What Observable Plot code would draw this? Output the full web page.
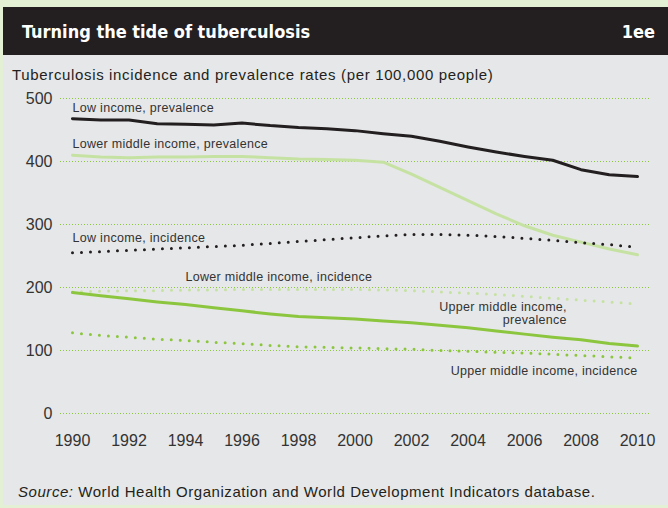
<!DOCTYPE html>
<html>
<head>
<meta charset="utf-8">
<script src="https://cdn.jsdelivr.net/npm/d3@7"></script>
<script src="https://cdn.jsdelivr.net/npm/@observablehq/plot@0.6"></script>
<style>
  html, body { margin:0; padding:0; }
  body { width:668px; height:508px; background:#e3f0d4; position:relative; overflow:hidden; font-family:"Liberation Sans", Arial, sans-serif; }
  #frame { position:absolute; left:3px; top:7px; width:665px; height:498px; background:#e6e7e8; }
  #titlebar { position:absolute; left:0; top:0; width:665px; height:48px; background:#231f20; color:#fff; }
  #title { position:absolute; left:19px; top:14px; font-family:"Liberation Sans Narrow","DejaVu Sans Condensed",sans-serif; font-weight:bold; font-size:18px; }
  #num { position:absolute; right:13px; top:14px; font-family:"Liberation Sans Narrow","DejaVu Sans Condensed",sans-serif; font-weight:bold; font-size:18px; }
  #subtitle { position:absolute; left:9px; top:59px; font-size:15px; letter-spacing:0.65px; color:#231f20; }
  #chart { position:absolute; left:0; top:78px; }
  #source { position:absolute; left:15px; top:476px; font-size:15px; letter-spacing:0.55px; color:#231f20; }
</style>
</head>
<body>
<div id="frame">
  <div id="titlebar"><div id="title">Turning the tide of tuberculosis</div><div id="num">1ee</div></div>
  <div id="subtitle">Tuberculosis incidence and prevalence rates (per 100,000 people)</div>
  <div id="chart"></div>
  <div id="source"><i>Source:</i> World Health Organization and World Development Indicators database.</div>
</div>
<script>
const years = [1990,1991,1992,1993,1994,1995,1996,1997,1998,1999,2000,2001,2002,2003,2004,2005,2006,2007,2008,2009,2010];
const lowPrevalence      = [468,466,466,460,459,458,461,457,454,452,449,444,440,432,423,415,408,402,387,379,376];
const lowerMidPrevalence = [410,407,406,407,407,408,408,406,404,403,402,399,380,359,338,317,298,283,272,261,252];
const lowIncidence       = [255,257,259,261,263,265,267,270,273,276,279,282,284,284,283,281,278,275,271,268,264];
const lowerMidIncidence  = [193,194,195,195,196,196,197,197,197,197,197,196,195,193,191,189,186,183,180,177,174];
const upperMidPrevalence = [192,187,182,177,173,168,163,158,154,152,150,147,144,140,136,131,126,121,117,111,107];
const upperMidIncidence  = [128,124,121,118,116,113,111,108,106,105,104,103,102,100,99,97,96,94,92,90,88];
const xTicks = [1990,1992,1994,1996,1998,2000,2002,2004,2006,2008,2010];
const yTicks = [0,100,200,300,400,500];

const seriesNames = ["Low income, prevalence","Lower middle income, prevalence","Low income, incidence","Lower middle income, incidence","Upper middle income, prevalence","Upper middle income, incidence"];
const seriesValues = [lowPrevalence, lowerMidPrevalence, lowIncidence, lowerMidIncidence, upperMidPrevalence, upperMidIncidence];
const seriesColors = ["#231f20","#c6e2a3","#231f20","#c6e2a3","#8cc63f","#8cc63f"];
const seriesDotted = [false,false,true,true,false,true];

// label annotations: anchor year on the series, text anchor, vertical offset
const labelText   = ["Low income, prevalence","Lower middle income, prevalence","Low income, incidence","Lower middle income, incidence","Upper middle income,\nprevalence","Upper middle income, incidence"];
const labelYear   = [1990,1990,1990,1994,2007.5,2010];
const labelAnchor = ["start","start","start","start","end","end"];
const labelDy     = [-11,-11,-15,-13,-25,13];

const rows = [];
seriesNames.forEach((s, i) => years.forEach((yr, j) => rows.push({series:s, year:yr, value:seriesValues[i][j]})));

const labels = labelText.map((t, i) => {
  const vals = seriesValues[i];
  const yr = labelYear[i];
  const j = years.findIndex(y => y >= yr);
  let v = vals[j];
  if (years[j] !== yr) v = (vals[j-1] + vals[j]) / 2;
  return {text:t, year:yr, value:v, anchor:labelAnchor[i], dy:labelDy[i]};
});

const lineMarks = seriesNames.map((s, i) => Plot.line(rows.filter(d => d.series === s), {
  x:"year", y:"value", stroke:seriesColors[i],
  strokeWidth: 3,
  strokeDasharray: seriesDotted[i] ? "0 9" : null,
  strokeLinecap: "round", strokeLinejoin:"round",
  curve: "linear"
}));

const labelMarks = labels.map(l => Plot.text([l], {
  x:"year", y:"value", text:"text", textAnchor:l.anchor, dy:l.dy,
  fontSize:12.5, fill:"#333", lineHeight:1.05
}));

const chart = Plot.plot({
  width:665, height:382,
  marginTop:13, marginBottom:54, marginLeft:69, marginRight:31,
  style:{fontFamily:'"Liberation Sans", Arial, sans-serif', fontSize:"16px", color:"#333", background:"transparent", overflow:"visible"},
  x:{domain:[1990,2010], ticks:xTicks, tickFormat:d => String(d), tickSize:0, tickPadding:21, label:null},
  y:{domain:[0,500], ticks:yTicks, tickSize:0, tickPadding:20, label:null},
  marks:[
    Plot.ruleY(yTicks, {stroke:"#8cc63f", strokeWidth:1, strokeDasharray:"1 2", insetLeft:-12, insetRight:-13}),
    ...lineMarks,
    ...labelMarks
  ]
});
chart.querySelectorAll("text").forEach(t => { if (t.closest("g[aria-label='text']")) t.style.letterSpacing = "0.3px"; });
document.getElementById("chart").appendChild(chart);
</script>
</body>
</html>
